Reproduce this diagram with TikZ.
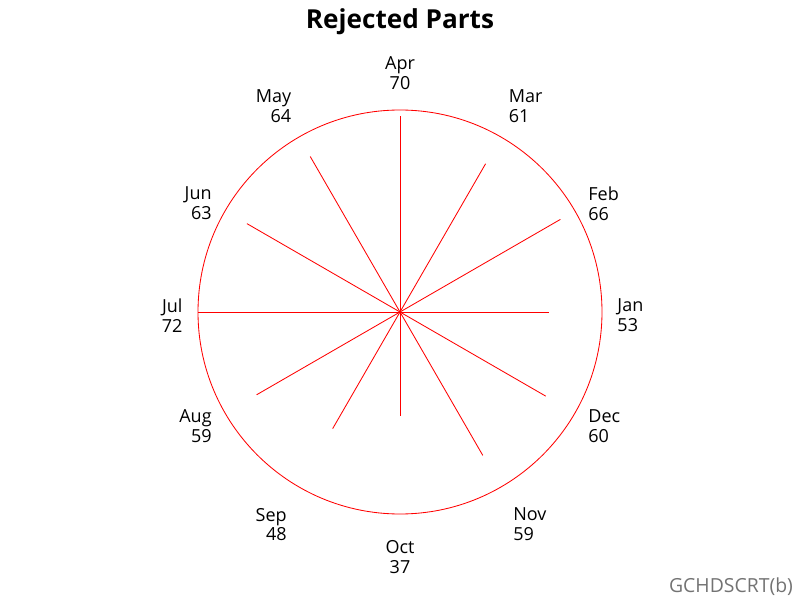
\documentclass[tikz,border=0pt]{standalone}
\usepackage{fontspec}
\setmainfont{Open Sans}
\usetikzlibrary{calc}
\begin{document}
\begin{tikzpicture}[x=1cm,y=1cm,
  lbl/.style={font=\fontsize{12.8}{14.2}\selectfont,inner sep=0pt}]
\useasboundingbox (0,0) rectangle (20,15);
\coordinate (center) at (10,7.2);
\node (title) at (10,14.45) {\fontsize{18.6}{20}\selectfont\bfseries Rejected Parts};
\draw[red,line width=0.6pt] (center) circle (5.05);
\foreach \ang/\mon/\val/\anc/\al/\rad/\dy in {0/Jan/53/west/left/5.43/-0.09, 30/Feb/66/west/left/5.43/0,
  60/Mar/61/south west/left/5.43/0.02, 90/Apr/70/south/center/5.55/0,
  120/May/64/south east/right/5.43/0.02, 150/Jun/63/east/right/5.43/0,
  180/Jul/72/east/right/5.43/-0.09, 210/Aug/59/east/right/5.43/-0.15,
  240/Sep/48/north east/right/5.65/0, 270/Oct/37/north/center/5.7/0,
  300/Nov/59/north west/left/5.65/0, 330/Dec/60/west/left/5.43/-0.15}
{
\coordinate (s\mon) at ($(center)+(\ang:{5.05*\val/72})$);
\draw[red,line width=0.6pt] (center) -- (s\mon);
\node[lbl,anchor=\anc,align=\al,yshift=\dy cm] (l\mon) at ($(center)+(\ang:\rad)$) {\mon\\\val};
}
\node[lbl,anchor=east,text=black!55,font=\fontsize{13.8}{16}\selectfont] (foot) at (19.83,0.33) {GCHDSCRT(b)};
\end{tikzpicture}
\end{document}
